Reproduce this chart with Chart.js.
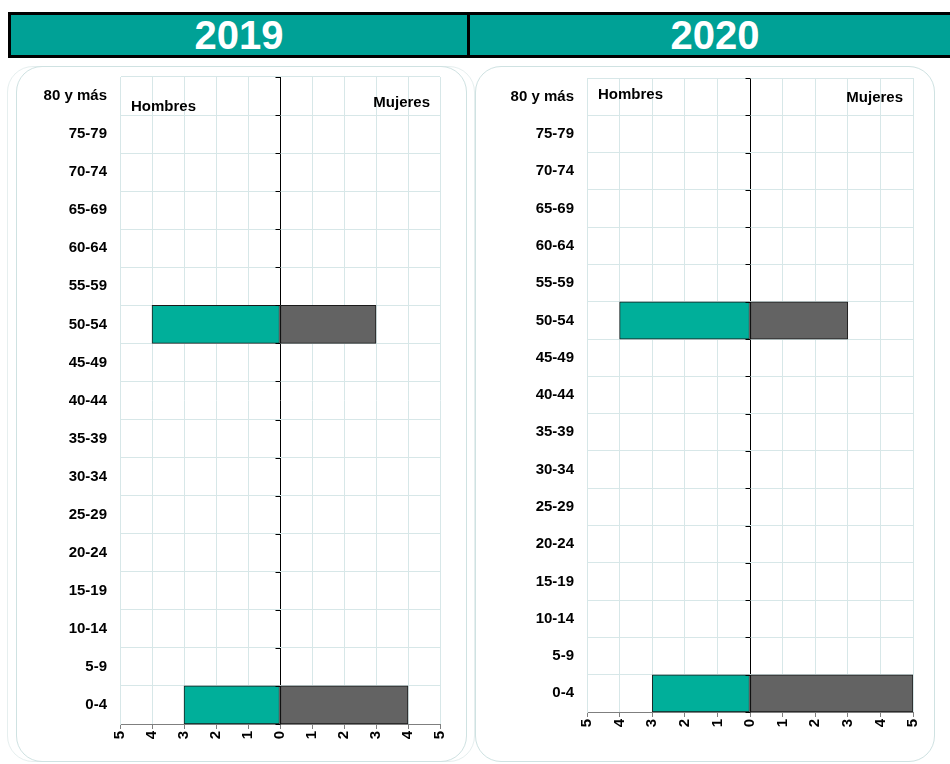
<!DOCTYPE html>
<html>
<head>
<meta charset="utf-8">
<script src="https://cdn.jsdelivr.net/npm/chart.js@4.4.1/dist/chart.umd.min.js"></script>
<style>
  body { margin: 0; background: #fff; font-family: "Liberation Sans", Arial, sans-serif; }
  .head { position: absolute; top: 12px; height: 40px; background: #00a196; border: 3px solid #000;
          color: #fff; font-weight: bold; font-size: 40px; line-height: 40px; text-align: center; }
  .panel { position: absolute; top: 66px; height: 694px; border: 1.5px solid #cfe2e2; border-radius: 26px; }
  .box { position: absolute; top: 66px; height: 698px; }
</style>
</head>
<body>
<div class="head" style="left:8px; width:456px;">2019</div>
<div class="head" style="left:467px; width:490px;">2020</div>
<div class="panel" style="left:7px; width:466px; border-color:#e6efef;"></div>
<div class="panel" style="left:16px; width:449px;"></div>
<div class="panel" style="left:475px; width:458px;"></div>
<div class="box" style="left:16px; width:450px;"><canvas id="c2019"></canvas></div>
<div class="box" style="left:475px; width:460px;"><canvas id="c2020"></canvas></div>
<script>
const grupos = ['80 y más','75-79','70-74','65-69','60-64','55-59','50-54','45-49','40-44',
                '35-39','30-34','25-29','20-24','15-19','10-14','5-9','0-4'];
const hombres2019 = [0,0,0,0,0,0,4,0,0,0,0,0,0,0,0,0,3];
const mujeres2019 = [0,0,0,0,0,0,3,0,0,0,0,0,0,0,0,0,4];
const hombres2020 = [0,0,0,0,0,0,4,0,0,0,0,0,0,0,0,0,3];
const mujeres2020 = [0,0,0,0,0,0,3,0,0,0,0,0,0,0,0,0,5];

const gridColor = '#d7e7e8';
const font = { family: '"Liberation Sans", Arial, sans-serif', weight: 'bold' };

function pyramid(id, hombres, mujeres, opt) {
  // little black ticks on the zero line + the Hombres / Mujeres captions
  const extras = {
    id: 'extras',
    afterDatasetsDraw(chart) {
      const ctx = chart.ctx, a = chart.chartArea;
      const x0 = Math.round(chart.scales.x.getPixelForValue(0)) + 0.5;
      ctx.save();
      ctx.strokeStyle = '#000';
      ctx.lineWidth = 1;
      ctx.beginPath();
      for (let i = 0; i <= grupos.length; i++) {
        const y = Math.round(a.top + i * (a.bottom - a.top) / grupos.length) + 0.5;
        ctx.moveTo(x0 - 5, y);
        ctx.lineTo(x0, y);
      }
      ctx.stroke();
      ctx.fillStyle = '#000';
      ctx.font = 'bold 15px "Liberation Sans", Arial, sans-serif';
      ctx.textBaseline = 'middle';
      ctx.textAlign = 'left';
      ctx.fillText('Hombres', a.left + 11, a.top + opt.hy);
      ctx.textAlign = 'right';
      ctx.fillText('Mujeres', a.right - 10, a.top + opt.my);
      ctx.restore();
    }
  };

  new Chart(document.getElementById(id), {
    type: 'bar',
    data: {
      labels: grupos,
      datasets: [
        { label: 'Hombres', data: hombres.map(v => v === 0 ? null : -v),
          backgroundColor: '#00af9a', borderColor: '#1a1a1a', borderWidth: 1, borderSkipped: false },
        { label: 'Mujeres', data: mujeres.map(v => v === 0 ? null : v),
          backgroundColor: '#636363', borderColor: '#1a1a1a', borderWidth: 1, borderSkipped: false }
      ]
    },
    options: {
      indexAxis: 'y',
      responsive: true,
      maintainAspectRatio: false,
      animation: false,
      barPercentage: 1,
      categoryPercentage: 1,
      layout: { padding: { top: opt.top, right: opt.right, left: 0, bottom: 0 } },
      plugins: { legend: { display: false }, tooltip: { enabled: false } },
      scales: {
        x: {
          stacked: true,
          min: -5, max: 5,
          afterFit: s => { s.height = opt.xh; s.paddingTop = 0; s.paddingBottom = 0; },
          ticks: {
            stepSize: 1,
            minRotation: 90, maxRotation: 90,
            color: '#000',
            padding: 2,
            font: Object.assign({ size: 15 }, font),
            callback: v => Math.abs(v)
          },
          grid: {
            color: c => c.tick && c.tick.value === 0 ? '#000' : gridColor,
            tickColor: '#7f7f7f',
            tickLength: 5
          },
          border: { color: '#7f7f7f' }
        },
        y: {
          stacked: true,
          afterFit: s => { s.width = opt.yw; s.paddingTop = 0; s.paddingBottom = 0; },
          ticks: { color: '#000', padding: 13, font: Object.assign({ size: 15 }, font) },
          grid: { color: gridColor, drawTicks: false, offset: true },
          border: { color: gridColor }
        }
      }
    },
    plugins: [extras]
  });
}

pyramid('c2019', hombres2019, mujeres2019, { top: 11, right: 26, xh: 40, yw: 104, hy: 30, my: 26 });
pyramid('c2020', hombres2020, mujeres2020, { top: 12, right: 22, xh: 52, yw: 112, hy: 17, my: 20 });
</script>
</body>
</html>
